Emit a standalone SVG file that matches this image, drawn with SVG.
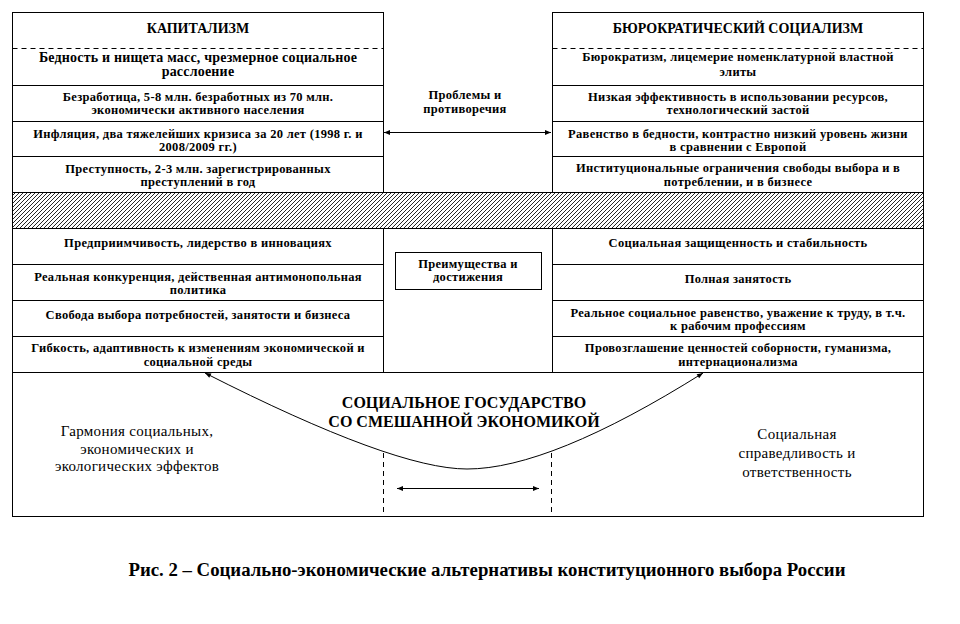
<svg xmlns="http://www.w3.org/2000/svg" width="960" height="624" viewBox="0 0 960 624" font-family="'Liberation Serif', 'DejaVu Serif', serif">
<style>
.box{fill:#fff;stroke:#000;stroke-width:1}
.ln{stroke:#000;stroke-width:1;fill:none}
.dash{stroke:#000;stroke-width:1;stroke-dasharray:5,4;fill:none}
text{font-family:'Liberation Serif','DejaVu Serif',serif;fill:#000;text-anchor:middle}
.h{font-size:14px;font-weight:bold}
.t{font-size:12.5px;font-weight:bold;letter-spacing:0.3px}
.tb{font-size:14px;font-weight:bold;letter-spacing:0.2px}
.ti{font-size:16px;font-weight:bold}
.r{font-size:15px;letter-spacing:0.3px}
.cap{font-size:18px;font-weight:bold}
.con{stroke:#000;stroke-width:1;fill:none}
</style>
<defs>
<pattern id="hatch" patternUnits="userSpaceOnUse" width="4" height="4">
<rect width="4" height="4" fill="#fff"/>
<path d="M-1,1 L1,-1 M0,4 L4,0 M3,5 L5,3" stroke="#000" stroke-width="0.85"/>
</pattern>
<marker id="ah" viewBox="0 0 10 10" refX="10" refY="5" markerWidth="8" markerHeight="6" markerUnits="userSpaceOnUse" orient="auto-start-reverse">
<path d="M0,1 L10,5 L0,9 z" fill="#000"/>
</marker>
</defs>

<g id="capitalism-problems">
<rect class="box" x="12.5" y="12.5" width="371" height="180"/>
<line class="dash" x1="12.5" y1="48.5" x2="383.5" y2="48.5"/>
<line class="ln" x1="12.5" y1="85.5" x2="383.5" y2="85.5"/>
<line class="ln" x1="12.5" y1="121.5" x2="383.5" y2="121.5"/>
<line class="ln" x1="12.5" y1="156.5" x2="383.5" y2="156.5"/>
<text class="h" x="198" y="33">КАПИТАЛИЗМ</text>
<text class="tb" x="198" y="62">Бедность и нищета масс, чрезмерное социальное</text>
<text class="tb" x="198" y="76">расслоение</text>
<text class="t" x="198" y="101">Безработица, 5-8 млн. безработных из 70 млн.</text>
<text class="t" x="198" y="114">экономически активного населения</text>
<text class="t" x="198" y="138">Инфляция, два тяжелейших кризиса за 20 лет (1998 г. и</text>
<text class="t" x="198" y="151">2008/2009 гг.)</text>
<text class="t" x="198" y="173">Преступность, 2-3 млн. зарегистрированных</text>
<text class="t" x="198" y="186">преступлений в год</text>
</g>

<g id="socialism-problems">
<rect class="box" x="552.5" y="12.5" width="371" height="180"/>
<line class="dash" x1="552.5" y1="48.5" x2="923.5" y2="48.5"/>
<line class="ln" x1="552.5" y1="85.5" x2="923.5" y2="85.5"/>
<line class="ln" x1="552.5" y1="121.5" x2="923.5" y2="121.5"/>
<line class="ln" x1="552.5" y1="156.5" x2="923.5" y2="156.5"/>
<text class="h" x="738" y="33">БЮРОКРАТИЧЕСКИЙ СОЦИАЛИЗМ</text>
<text class="t" x="738" y="61">Бюрократизм, лицемерие номенклатурной властной</text>
<text class="t" x="738" y="76">элиты</text>
<text class="t" x="738" y="101">Низкая эффективность в использовании ресурсов,</text>
<text class="t" x="738" y="114">технологический застой</text>
<text class="t" x="738" y="138">Равенство в бедности, контрастно низкий уровень жизни</text>
<text class="t" x="738" y="151">в сравнении с Европой</text>
<text class="t" x="738" y="172">Институциональные ограничения свободы выбора и в</text>
<text class="t" x="738" y="186">потреблении, и в бизнесе</text>
</g>

<g id="problems-label">
<text class="t" x="465" y="99">Проблемы и</text>
<text class="t" x="465" y="113">противоречия</text>
</g>

<g id="divider">
<rect x="12.5" y="192.5" width="911" height="36" fill="url(#hatch)" stroke="#000" stroke-width="1"/>
</g>

<g id="capitalism-advantages">
<rect class="box" x="12.5" y="228.5" width="371" height="144"/>
<line class="ln" x1="12.5" y1="264.5" x2="383.5" y2="264.5"/>
<line class="ln" x1="12.5" y1="300.5" x2="383.5" y2="300.5"/>
<line class="ln" x1="12.5" y1="336.5" x2="383.5" y2="336.5"/>
<text class="t" x="198" y="247">Предприимчивость, лидерство в инновациях</text>
<text class="t" x="198" y="281">Реальная конкуренция, действенная антимонопольная</text>
<text class="t" x="198" y="294">политика</text>
<text class="t" x="198" y="319">Свобода выбора потребностей, занятости и бизнеса</text>
<text class="t" x="198" y="352">Гибкость, адаптивность к изменениям экономической и</text>
<text class="t" x="198" y="366">социальной среды</text>
</g>

<g id="socialism-advantages">
<rect class="box" x="552.5" y="228.5" width="371" height="144"/>
<line class="ln" x1="552.5" y1="264.5" x2="923.5" y2="264.5"/>
<line class="ln" x1="552.5" y1="300.5" x2="923.5" y2="300.5"/>
<line class="ln" x1="552.5" y1="336.5" x2="923.5" y2="336.5"/>
<text class="t" x="738" y="247">Социальная защищенность и стабильность</text>
<text class="t" x="738" y="283">Полная занятость</text>
<text class="t" x="738" y="317">Реальное социальное равенство, уважение к труду, в т.ч.</text>
<text class="t" x="738" y="330">к рабочим профессиям</text>
<text class="t" x="738" y="352">Провозглашение ценностей соборности, гуманизма,</text>
<text class="t" x="738" y="366">интернационализма</text>
</g>

<g id="advantages-label">
<rect class="box" x="395.5" y="252.5" width="146" height="37"/>
<text class="t" x="468" y="268">Преимущества и</text>
<text class="t" x="468" y="281">достижения</text>
</g>

<g id="social-state">
<rect class="box" x="12.5" y="372.5" width="911" height="144"/>
<line class="dash" x1="383.5" y1="453" x2="383.5" y2="516"/>
<line class="dash" x1="551.5" y1="453" x2="551.5" y2="516"/>
<text class="ti" x="464" y="408">СОЦИАЛЬНОЕ ГОСУДАРСТВО</text>
<text class="ti" x="464" y="427">СО СМЕШАННОЙ ЭКОНОМИКОЙ</text>
</g>

<g id="harmony">
<text class="r" x="137" y="436">Гармония социальных,</text>
<text class="r" x="137" y="454">экономических и</text>
<text class="r" x="137" y="471">экологических эффектов</text>
</g>

<g id="justice">
<text class="r" x="797" y="439">Социальная</text>
<text class="r" x="797" y="458">справедливость и</text>
<text class="r" x="797" y="477">ответственность</text>
</g>

<g id="connectors">
<line class="con" x1="384" y1="132.5" x2="551" y2="132.5" marker-start="url(#ah)" marker-end="url(#ah)"/>
<path class="con" d="M205,373 Q394,469 467,469 Q550,469 703,373" marker-start="url(#ah)" marker-end="url(#ah)"/>
<line class="con" x1="397" y1="488.5" x2="539" y2="488.5" marker-start="url(#ah)" marker-end="url(#ah)"/>
</g>

<text class="cap" x="487" y="576" textLength="717" lengthAdjust="spacingAndGlyphs">Рис. 2 – Социально-экономические альтернативы конституционного выбора России</text>
</svg>
